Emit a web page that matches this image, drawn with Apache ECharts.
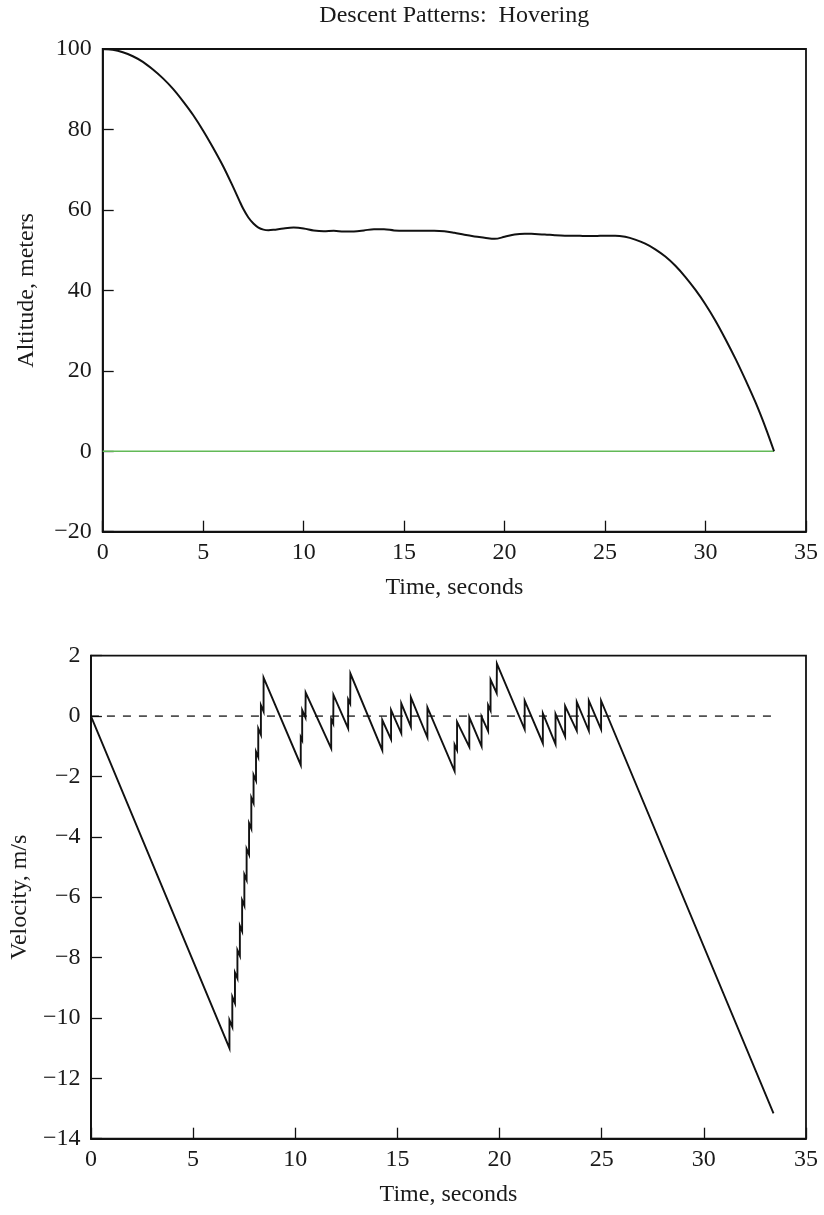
<!DOCTYPE html>
<html>
<head>
<meta charset="utf-8">
<script src="https://cdn.jsdelivr.net/npm/echarts@6/dist/echarts.min.js"></script>
<style>
  html, body { margin: 0; padding: 0; background: #fff; }
  #chart { width: 824px; height: 1215px; }
</style>
</head>
<body>
<div id="chart"></div>
<script>
// ---------- data ----------
const titleText = 'Descent Patterns:  Hovering';
const xName = 'Time, seconds';
const altName = 'Altitude, meters';
const velName = 'Velocity, m/s';

const xTicks = [0, 5, 10, 15, 20, 25, 30, 35];
const altTicks = [-20, 0, 20, 40, 60, 80, 100];
const velTicks = [-14, -12, -10, -8, -6, -4, -2, 0, 2];

// altitude (m) vs time (s)
const altT = [0, 0.5, 1, 1.5, 2, 2.5, 3, 3.5, 4, 4.5, 5, 5.5, 6, 6.5, 6.8, 7.0, 7.25, 7.5, 7.75, 8.0, 8.25, 8.5,
  9.0, 9.5, 10.0, 10.5, 11, 11.5, 12, 12.5, 13, 13.5, 14, 14.5, 15, 15.5, 16, 16.5, 17, 17.5, 18, 18.5, 19, 19.5,
  20, 20.5, 21, 21.5, 22, 22.5, 23, 23.5, 24, 24.5, 25, 25.5, 26, 26.5, 27, 27.5, 28, 28.5, 29, 29.5, 30, 30.5,
  31, 31.5, 32, 32.5, 33, 33.41];
const altH = [100, 99.8, 99.2, 98.2, 96.8, 94.9, 92.7, 90.1, 87.0, 83.6, 79.7, 75.4, 70.8, 65.6, 62.3, 60.2, 58.1, 56.6, 55.6, 55.1, 54.95, 55.05,
  55.4, 55.6, 55.4, 54.9, 54.7, 54.8, 54.6, 54.65, 54.9, 55.2, 55.2, 54.9, 54.8, 54.8, 54.8, 54.8, 54.7, 54.3, 53.8, 53.4, 53.1, 52.8,
  53.3, 53.9, 54.1, 54.0, 53.9, 53.7, 53.6, 53.6, 53.5, 53.5, 53.6, 53.6, 53.3, 52.6, 51.6, 50.2, 48.4, 46.1, 43.3, 40.1, 36.5, 32.4,
  27.8, 22.9, 17.6, 12.0, 5.7, 0];

// ground level (altitude plot)
const groundT = [0, 33.41];
const groundH = [0, 0];

// velocity (m/s) vs time (s)
const velT = [0, 6.78, 6.78, 6.92, 6.92, 7.05, 7.05, 7.17, 7.17, 7.29, 7.29, 7.40, 7.40, 7.51, 7.51, 7.62, 7.62,
  7.74, 7.74, 7.85, 7.85, 7.96, 7.96, 8.08, 8.08, 8.19, 8.19, 8.32, 8.32, 8.45, 8.45,
  10.27, 10.27, 10.34, 10.34, 10.50, 10.51,
  11.76, 11.76, 11.86, 11.87, 12.59, 12.59, 12.69, 12.70,
  14.26, 14.26, 14.69, 14.69, 15.19, 15.19, 15.66, 15.66, 16.47, 16.47,
  17.80, 17.80, 17.92, 17.92, 18.52, 18.52, 19.12, 19.12, 19.44, 19.44, 19.56, 19.56, 19.86, 19.87,
  21.23, 21.23, 22.12, 22.12, 22.74, 22.74, 23.21, 23.21, 23.78, 23.78, 24.37, 24.37, 24.97, 24.97,
  33.41];
const velV = [0, -11.0, -10.07, -10.3, -9.3, -9.51, -8.5, -8.69, -7.75, -7.94, -6.95, -7.13, -6.1, -6.28, -5.25, -5.43, -4.4,
  -4.59, -3.55, -3.73, -2.7, -2.88, -1.95, -2.14, -1.18, -1.36, -0.41, -0.62, 0.36, 0.15, 1.27,
  -1.62, -0.70, -0.80, 0.20, -0.05, 0.78,
  -1.07, -0.10, -0.25, 0.70, -0.41, 0.55, 0.41, 1.41,
  -1.13, -0.13, -0.77, 0.20, -0.57, 0.42, -0.35, 0.62, -0.71, 0.29,
  -1.82, -0.95, -1.13, -0.19, -1.02, -0.04, -1.00, -0.02, -0.50, 0.36, 0.18, 1.21, 0.76, 1.74,
  -0.44, 0.51, -0.90, 0.09, -0.93, 0.07, -0.68, 0.33, -0.49, 0.47, -0.49, 0.51, -0.44, 0.51,
  -13.16];

// zero reference (velocity plot)
const zeroT = [0, 33.44];
const zeroV = [0, 0];

// ---------- chart ----------
const pairs = (xs, ys) => xs.map((x, i) => [x, ys[i]]);
const FONT = 'Liberation Serif';
const TXT = '#1a1a1a';
const minusFmt = v => String(v).replace('-', '\u2212');

function xAxisCfg(gridIndex, gap) {
  return {
    type: 'value', gridIndex,
    min: xTicks[0], max: xTicks[xTicks.length - 1], interval: xTicks[1] - xTicks[0],
    name: xName, nameLocation: 'middle', nameGap: gap,
    nameTextStyle: { fontFamily: FONT, fontSize: 24, color: TXT },
    axisLine: { show: true, onZero: false, lineStyle: { color: '#111', width: 1.8 } },
    axisTick: { show: true, inside: true, length: 11, lineStyle: { color: '#111', width: 1.3 } },
    axisLabel: { fontFamily: FONT, fontSize: 24, color: TXT, margin: 9, formatter: minusFmt },
    splitLine: { show: false }
  };
}
function yAxisCfg(gridIndex, ticks, name, gap, margin) {
  return {
    type: 'value', gridIndex,
    min: ticks[0], max: ticks[ticks.length - 1], interval: ticks[1] - ticks[0],
    name: name, nameLocation: 'middle', nameGap: gap,
    nameTextStyle: { fontFamily: FONT, fontSize: 24, color: TXT },
    axisLine: { show: true, onZero: false, lineStyle: { color: '#111', width: 1.8 } },
    axisTick: { show: true, inside: true, length: 11, lineStyle: { color: '#111', width: 1.3 } },
    axisLabel: { fontFamily: FONT, fontSize: 24, color: TXT, margin: margin, formatter: minusFmt },
    splitLine: { show: false }
  };
}

const chart = echarts.init(document.getElementById('chart'), null, { renderer: 'canvas' });
chart.setOption({
  animation: false,
  backgroundColor: '#fff',
  graphic: [{
    type: 'text', x: 454.3, y: 16,
    style: { text: titleText, font: '24px "Liberation Serif"', fill: TXT, textAlign: 'center', textVerticalAlign: 'middle' }
  }],
  grid: [
    { left: 102.7, top: 49, width: 703.3, height: 482.7, show: true, borderColor: '#111', borderWidth: 1.8, backgroundColor: 'transparent' },
    { left: 87.5, top: 655.7, width: 718.5, height: 483, show: true, borderColor: '#111', borderWidth: 1.8, backgroundColor: 'transparent' }
  ],
  xAxis: [xAxisCfg(0, 44), xAxisCfg(1, 44)],
  yAxis: [yAxisCfg(0, altTicks, altName, 64, 11), yAxisCfg(1, velTicks, velName, 49, 10.5)],
  series: [
    { type: 'line', xAxisIndex: 0, yAxisIndex: 0, data: pairs(groundT, groundH), showSymbol: false,
      lineStyle: { color: '#62b957', width: 1.6 }, z: 2 },
    { type: 'line', xAxisIndex: 0, yAxisIndex: 0, data: pairs(altT, altH), showSymbol: false, smooth: 0.35,
      lineStyle: { color: '#111', width: 2 }, z: 3 },
    { type: 'line', xAxisIndex: 1, yAxisIndex: 1, data: pairs(zeroT, zeroV), showSymbol: false,
      lineStyle: { color: '#000', width: 1.2, type: [8, 8] }, z: 2 },
    { type: 'line', xAxisIndex: 1, yAxisIndex: 1, data: pairs(velT, velV), showSymbol: false,
      lineStyle: { color: '#111', width: 1.9, join: 'miter' }, z: 3 }
  ]
});
</script>
</body>
</html>
